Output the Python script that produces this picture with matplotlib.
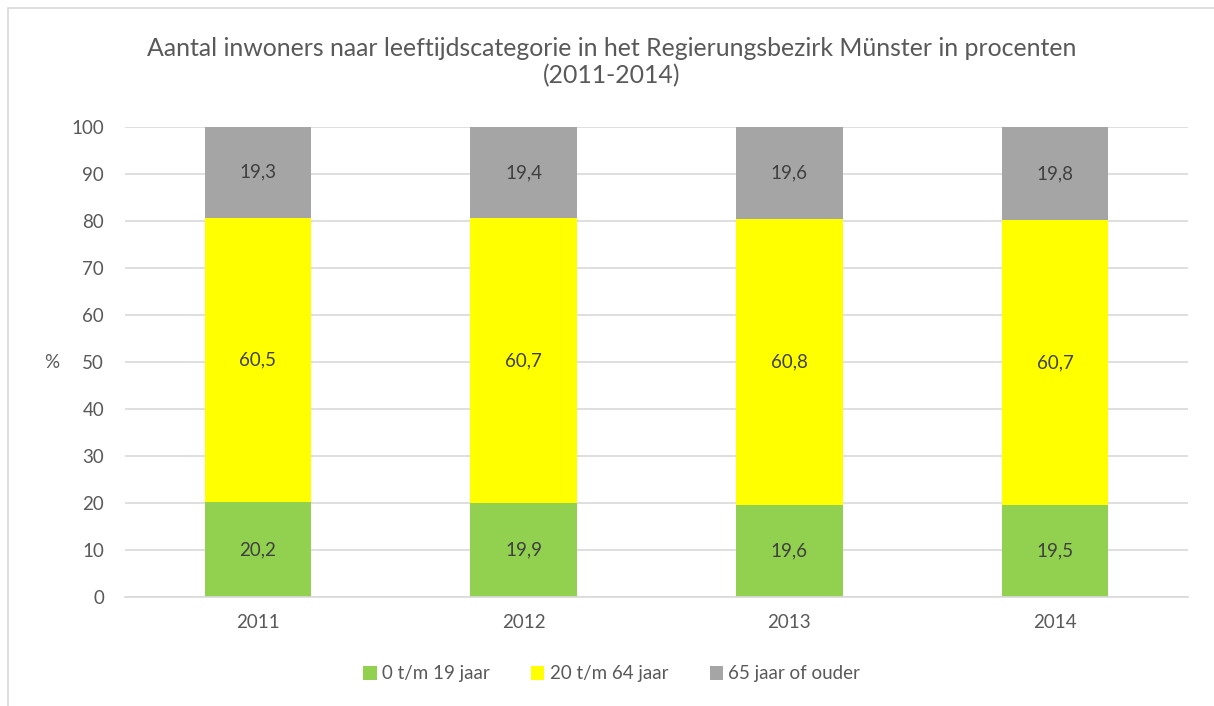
import matplotlib.pyplot as plt
import numpy as np

# data
years = ['2011', '2012', '2013', '2014']
jong = [20.2, 19.9, 19.6, 19.5]      # 0 t/m 19 jaar
midden = [60.5, 60.7, 60.8, 60.7]    # 20 t/m 64 jaar
oud = [19.3, 19.4, 19.6, 19.8]       # 65 jaar of ouder
series_names = ['0 t/m 19 jaar', '20 t/m 64 jaar', '65 jaar of ouder']
colors = ['#92D050', '#FFFF00', '#A5A5A5']

plt.rcParams['font.family'] = ['Lato', 'DejaVu Sans']
txt = '#595959'

fig = plt.figure(figsize=(12.14, 7.06), dpi=100)
ax = fig.add_axes([125/1214, 1 - 597/706, 1063/1214, 470/706])

x = np.arange(len(years))
bottom = np.zeros(len(years))
for vals, name, c in zip([jong, midden, oud], series_names, colors):
    bars = ax.bar(x, vals, width=0.4, bottom=bottom, color=c, label=name, zorder=2)
    labels = [f'{v:.1f}'.replace('.', ',') for v in vals]
    ax.bar_label(bars, labels=labels, label_type='center', color='#404040', fontsize=13.5)
    bottom += np.array(vals)

ax.set_xlim(-0.5, len(years) - 0.5)
ax.set_ylim(0, 100)
ax.set_yticks(range(0, 101, 10))
ax.set_xticks(x, years)
ax.yaxis.grid(True, color='#D9D9D9', linewidth=1.2, zorder=0)
ax.set_axisbelow(True)
for s in ['top', 'right', 'left']:
    ax.spines[s].set_visible(False)
ax.spines['bottom'].set_color('#D9D9D9')
ax.spines['bottom'].set_linewidth(1.2)
ax.tick_params(axis='both', length=0, labelsize=13.5, colors=txt)
ax.tick_params(axis='y', pad=15)
ax.tick_params(axis='x', pad=12)
ax.set_ylabel('%', rotation=0, fontsize=13.5, color=txt, labelpad=14, va='center')

fig.text(0.504, 1 - 62/706,
         'Aantal inwoners naar leeftijdscategorie in het Regierungsbezirk Münster in procenten\n(2011-2014)',
         ha='center', va='center', fontsize=17.9, color=txt, linespacing=1.2)

fig.legend(loc='center', bbox_to_anchor=(0.504, 1 - 674/706), ncol=3, frameon=False,
           fontsize=13.5, labelcolor=txt, handlelength=0.7, handleheight=0.7,
           handletextpad=0.3, columnspacing=2.2)

# outer chart border
fig.add_artist(plt.Rectangle((8/1214, -0.01), 1.05, 1 - 8/706 + 0.01, transform=fig.transFigure,
                             fill=False, edgecolor='#D9D9D9', linewidth=1.2))

fig.savefig('out.png', dpi=100)
